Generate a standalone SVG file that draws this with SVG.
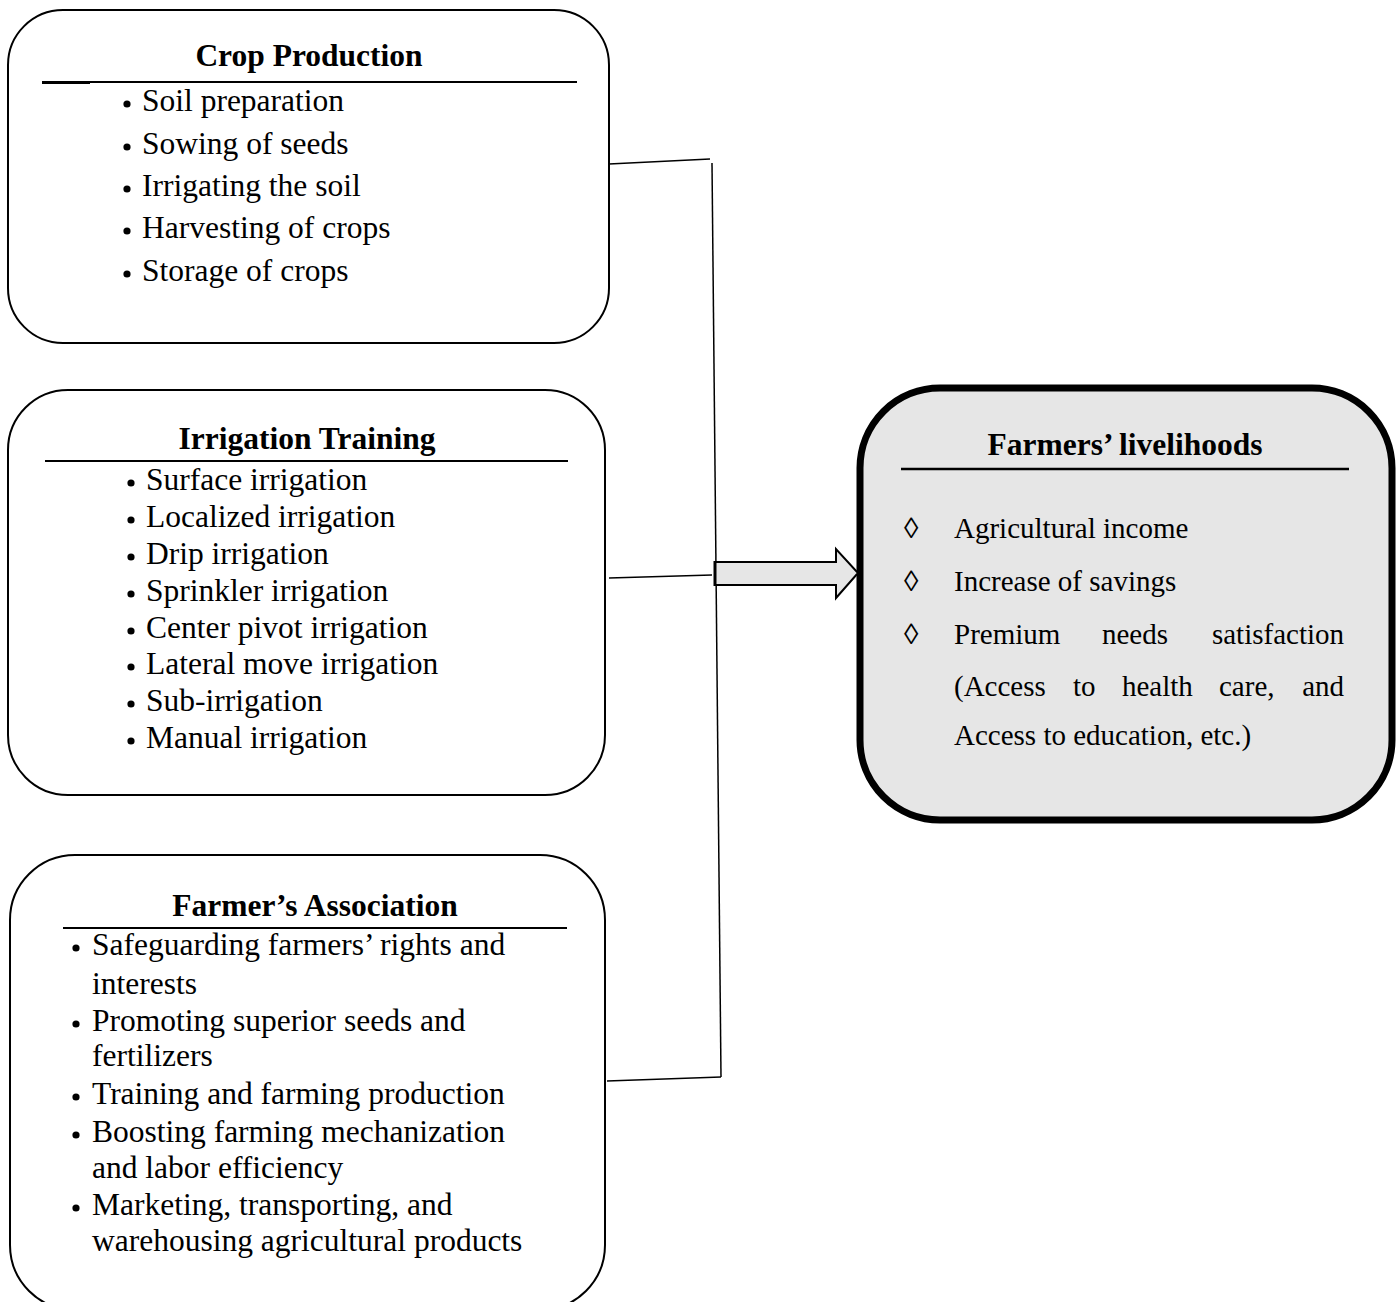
<svg xmlns="http://www.w3.org/2000/svg" width="1398" height="1302" viewBox="0 0 1398 1302">
<style>
.box{fill:#fff;stroke:#000;stroke-width:2}
.out{fill:#e6e6e6;stroke:#000;stroke-width:7}
.h{font-family:"Liberation Serif","Times New Roman",serif;font-weight:bold;font-size:31.5px;fill:#000;text-anchor:middle}
.t{font-family:"Liberation Serif","Times New Roman",serif;font-size:31.5px;fill:#000}
.r{font-family:"Liberation Serif","Times New Roman",serif;font-size:29px;fill:#000}
.ul{stroke:#000;stroke-width:2}
.c{stroke:#000;stroke-width:1.5;fill:none}
.b{fill:#000}
</style>
<rect width="1398" height="1302" fill="#fff"/>
<g id="crop-production">
<rect class="box" x="8" y="10" width="601" height="333" rx="55"/>
<text class="h" x="309" y="66">Crop Production</text>
<line class="ul" x1="42" y1="82" x2="577" y2="82"/>
<line stroke="#000" stroke-width="2" x1="42" y1="83" x2="90" y2="83"/>
<g class="b">
<circle cx="127" cy="104" r="3.6"/><circle cx="127" cy="147" r="3.6"/><circle cx="127" cy="189" r="3.6"/><circle cx="127" cy="231" r="3.6"/><circle cx="127" cy="274" r="3.6"/>
</g>
<g class="t">
<text x="142" y="111">Soil preparation</text>
<text x="142" y="154">Sowing of seeds</text>
<text x="142" y="196">Irrigating the soil</text>
<text x="142" y="238">Harvesting of crops</text>
<text x="142" y="281">Storage of crops</text>
</g>
</g>
<g id="irrigation-training">
<rect class="box" x="8" y="390" width="597" height="405" rx="60"/>
<text class="h" x="307" y="449">Irrigation Training</text>
<line class="ul" x1="45" y1="461" x2="568" y2="461"/>
<g class="b">
<circle cx="131" cy="483" r="3.6"/><circle cx="131" cy="520" r="3.6"/><circle cx="131" cy="557" r="3.6"/><circle cx="131" cy="594" r="3.6"/><circle cx="131" cy="631" r="3.6"/><circle cx="131" cy="667" r="3.6"/><circle cx="131" cy="704" r="3.6"/><circle cx="131" cy="741" r="3.6"/>
</g>
<g class="t">
<text x="146" y="490">Surface irrigation</text>
<text x="146" y="527">Localized irrigation</text>
<text x="146" y="564">Drip irrigation</text>
<text x="146" y="601">Sprinkler irrigation</text>
<text x="146" y="638">Center pivot irrigation</text>
<text x="146" y="674">Lateral move irrigation</text>
<text x="146" y="711">Sub-irrigation</text>
<text x="146" y="748">Manual irrigation</text>
</g>
</g>
<g id="farmers-association">
<rect class="box" x="10" y="855" width="595" height="455" rx="65"/>
<text class="h" x="315" y="916">Farmer’s Association</text>
<line class="ul" x1="63" y1="928" x2="567" y2="928"/>
<g class="b">
<circle cx="76" cy="948" r="3.6"/><circle cx="76" cy="1024" r="3.6"/><circle cx="76" cy="1097" r="3.6"/><circle cx="76" cy="1135" r="3.6"/><circle cx="76" cy="1208" r="3.6"/>
</g>
<g class="t">
<text x="92" y="955">Safeguarding farmers’ rights and</text>
<text x="92" y="994">interests</text>
<text x="92" y="1031">Promoting superior seeds and</text>
<text x="92" y="1066">fertilizers</text>
<text x="92" y="1104">Training and farming production</text>
<text x="92" y="1142">Boosting farming mechanization</text>
<text x="92" y="1178">and labor efficiency</text>
<text x="92" y="1215">Marketing, transporting, and</text>
<text x="92" y="1251">warehousing agricultural products</text>
</g>
</g>
<g id="farmers-livelihoods">
<rect class="out" x="860" y="388" width="532" height="432" rx="80"/>
<text class="h" x="1125" y="455">Farmers’ livelihoods</text>
<line stroke="#000" stroke-width="2.5" x1="901" y1="469" x2="1349" y2="469"/>
<g class="r">
<text x="904" y="538">◊</text><text x="954" y="538">Agricultural income</text>
<text x="904" y="591">◊</text><text x="954" y="591">Increase of savings</text>
<text x="904" y="644">◊</text><text x="954" y="644">Premium</text><text x="1102" y="644">needs</text><text x="1344" y="644" text-anchor="end">satisfaction</text>
<text x="954" y="696">(Access</text><text x="1073" y="696">to</text><text x="1122" y="696">health</text><text x="1219" y="696">care,</text><text x="1344" y="696" text-anchor="end">and</text>
<text x="954" y="745">Access to education, etc.)</text>
</g>
</g>
<g id="connectors">
<polyline class="c" points="609,164 710,159"/>
<polyline class="c" points="712,163 721,1077"/>
<polyline class="c" points="609,578 712,575"/>
<polyline class="c" points="607,1081 721,1077"/>
<path d="M715,562 L836,562 L836,549 L858,573 L836,598 L836,585 L715,585 Z" fill="#e6e6e6" stroke="#000" stroke-width="2"/>
<line stroke="#000" stroke-width="3" x1="715" y1="561" x2="715" y2="586"/>
</g>
</svg>
